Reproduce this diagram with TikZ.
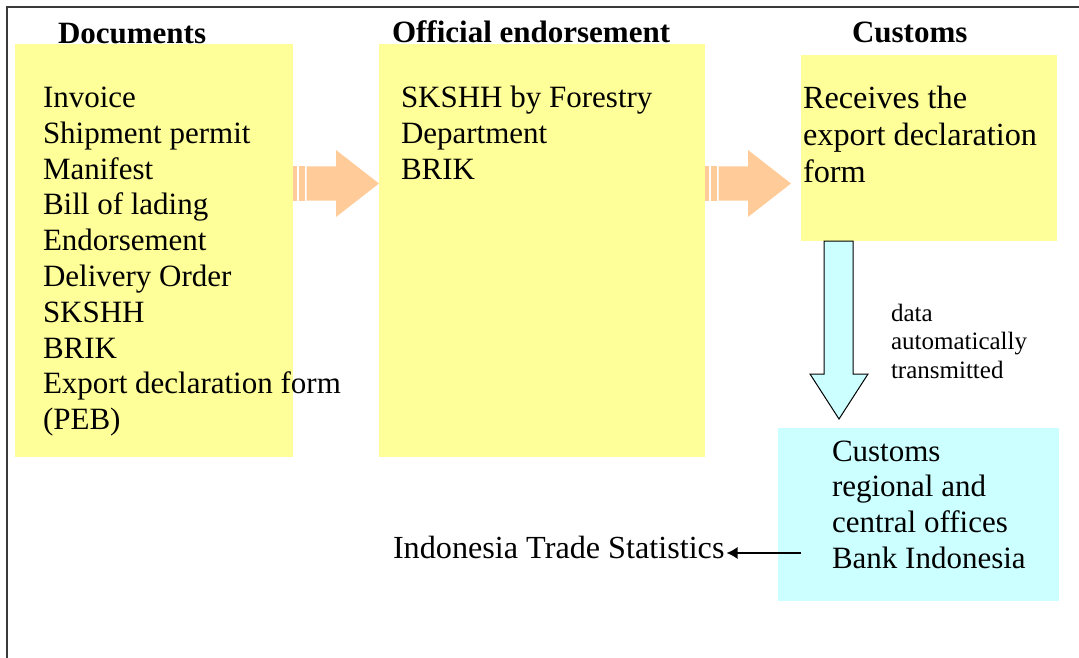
\documentclass[tikz,border=0pt]{standalone}
\usepackage{fontspec}
\setmainfont{Liberation Serif}
\usetikzlibrary{arrows.meta,calc}
\definecolor{pyellow}{HTML}{FFFF99}
\definecolor{pcyan}{HTML}{CCFFFF}
\definecolor{porange}{HTML}{FFCC99}
\definecolor{pframe}{HTML}{3A3A3A}
\newcommand\mainsz{\fontsize{31}{35.8}\selectfont}
\newcommand\custsz{\fontsize{32.3}{37}\selectfont}
\newcommand\statsz{\fontsize{32.2}{37}\selectfont}
\newcommand\smallsz{\fontsize{25}{28.5}\selectfont}
\tikzset{
  box/.style={anchor=north west, inner sep=0pt, outer sep=0pt, draw=none},
  ybox/.style={box, fill=pyellow},
  cbox/.style={box, fill=pcyan},
  txt/.style={anchor=base west, inner sep=0pt, outer sep=0pt, font=\mainsz},
  headtxt/.style={txt, font=\mainsz\bfseries},
  smalltxt/.style={txt, font=\smallsz},
  conn/.style={draw=black, line width=1.5pt, -{Latex[length=11pt,width=12pt]}},
  downarrow/.style={fill=pcyan, draw=black, line width=1pt},
  stripearrow/.pic={
    \fill[porange] (0,-17) rectangle (3.5,17);
    \fill[porange] (5.5,-17) rectangle (11.5,17);
    \fill[porange] (13.5,-17) -- (43,-17) -- (43,-33.5) -- (86,0) -- (43,33.5) -- (43,17) -- (13.5,17) -- cycle;
  }
}
\begin{document}
\begin{tikzpicture}[x=1pt,y=-1pt]
\useasboundingbox (0,0) rectangle (1079,658);
\clip (0,0) rectangle (1079,658);
% frame
\draw[pframe, line width=2pt] (7,700) -- (7,7) -- (1120,7);
% boxes
\node[ybox, minimum width=278pt, minimum height=413pt] (docs) at (15,44) {};
\node[ybox, minimum width=326pt, minimum height=413pt] (endorse) at (379,44) {};
\node[ybox, minimum width=256pt, minimum height=186pt] (cust) at (801,55) {};
\node[cbox, minimum width=281pt, minimum height=173pt] (reg) at (778,428) {};
% headers
\node[headtxt] (h1) at (58,43.5) {Documents};
\node[headtxt] (h2) at (392,42.5) {Official endorsement};
\node[headtxt] (h3) at (852,43) {Customs};
% box texts
\node[txt] (t1) at (43,107.5) {\begin{tabular}[t]{@{}l@{}}Invoice\\Shipment permit\\Manifest\\Bill of lading\\Endorsement\\Delivery Order\\SKSHH\\BRIK\\Export declaration form\\(PEB)\end{tabular}};
\node[txt] (t2) at (401,108) {\begin{tabular}[t]{@{}l@{}}SKSHH by Forestry\\Department\\BRIK\end{tabular}};
\node[txt, font=\custsz] (t3) at (803,108.5) {\begin{tabular}[t]{@{}l@{}}Receives the\\export declaration\\form\end{tabular}};
\node[txt] (t4) at (832,461) {\begin{tabular}[t]{@{}l@{}}Customs\\regional and\\central offices\\Bank Indonesia\end{tabular}};
\node[smalltxt] (t5) at (891,321) {\begin{tabular}[t]{@{}l@{}}data\\automatically\\transmitted\end{tabular}};
\node[txt, font=\statsz] (stats) at (393,558) {Indonesia Trade Statistics};
% block arrows
\coordinate (a1) at (293,183.5);
\coordinate (a2) at (705,183.5);
\pic at (a1) {stripearrow};
\pic at (a2) {stripearrow};
% down arrow
\draw[downarrow] (824,241) -- (853,241) -- (853,374) -- (868,374) -- (839,419) -- (810,374) -- (824,374) -- cycle;
% connector
\coordinate (c1) at ([xshift=2pt,yshift=5pt]stats.base east);
\draw[conn] (reg.west |- c1) ++(23,0) -- (c1);
\end{tikzpicture}
\end{document}
